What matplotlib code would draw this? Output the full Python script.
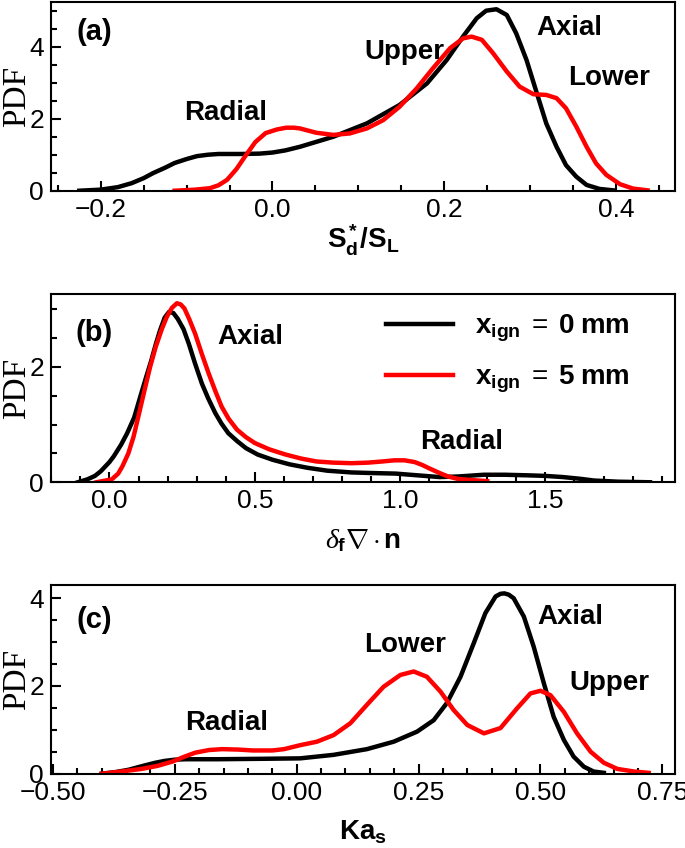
import matplotlib
matplotlib.use('Agg')
import matplotlib.pyplot as plt
from matplotlib.ticker import MultipleLocator

plt.rcParams['font.family'] = ['Liberation Sans', 'DejaVu Sans']
plt.rcParams['mathtext.fontset'] = 'custom'
plt.rcParams['mathtext.rm'] = 'Liberation Sans'
plt.rcParams['mathtext.sf'] = 'Liberation Sans'
plt.rcParams['mathtext.bf'] = 'Liberation Sans:bold'
plt.rcParams['mathtext.it'] = 'Liberation Serif:italic'

COLOR_X0 = 'black'
COLOR_X5 = '#ff0000'

# panel (a): S_d*/S_L
sd_x0_x = [-0.225, -0.20, -0.18, -0.164, -0.15, -0.139, -0.125, -0.114, -0.10, -0.088, -0.075,
           -0.063, -0.037, -0.015, 0.0, 0.015, 0.032, 0.071, 0.110, 0.148, 0.180, 0.203,
           0.222, 0.238, 0.249, 0.261, 0.273, 0.284, 0.296, 0.308, 0.319, 0.331, 0.342,
           0.354, 0.366, 0.381, 0.397]
sd_x0_y = [0.0, 0.03, 0.10, 0.21, 0.35, 0.49, 0.64, 0.77, 0.88, 0.96, 1.00,
           1.02, 1.02, 1.03, 1.06, 1.12, 1.22, 1.50, 1.87, 2.38, 2.98, 3.63,
           4.28, 4.79, 5.00, 5.04, 4.88, 4.37, 3.63, 2.71, 1.87, 1.22, 0.71,
           0.39, 0.16, 0.05, 0.01]
sd_x5_x = [-0.114, -0.09, -0.073, -0.063, -0.053, -0.042, -0.032, -0.020, -0.008, 0.005,
           0.016, 0.025, 0.032, 0.051, 0.071, 0.090, 0.110, 0.129, 0.148, 0.168, 0.187,
           0.207, 0.222, 0.232, 0.244, 0.257, 0.273, 0.288, 0.304, 0.319, 0.331, 0.342,
           0.354, 0.366, 0.377, 0.389, 0.405, 0.420, 0.437]
sd_x5_y = [0.0, 0.03, 0.07, 0.15, 0.30, 0.60, 0.95, 1.35, 1.60, 1.70,
           1.75, 1.75, 1.73, 1.61, 1.55, 1.59, 1.73, 1.96, 2.33, 2.84, 3.40,
           3.96, 4.23, 4.28, 4.19, 3.82, 3.31, 2.89, 2.68, 2.66, 2.57, 2.29,
           1.78, 1.22, 0.76, 0.44, 0.18, 0.06, 0.01]

# panel (b): delta_f * curvature
curv_x0_x = [-0.109, -0.076, -0.05, -0.030, 0.0, 0.015, 0.04, 0.061, 0.085, 0.106, 0.125,
             0.144, 0.160, 0.174, 0.19, 0.205, 0.22, 0.235, 0.255, 0.273, 0.295, 0.318,
             0.34, 0.364, 0.385, 0.409, 0.44, 0.470, 0.51, 0.561, 0.62, 0.682, 0.75,
             0.833, 0.90, 0.985, 1.06, 1.136, 1.20, 1.288, 1.36, 1.439, 1.50, 1.56,
             1.62, 1.667, 1.75, 1.86]
curv_x0_y = [0.0, 0.05, 0.11, 0.19, 0.35, 0.45, 0.65, 0.85, 1.12, 1.48, 1.80,
             2.11, 2.40, 2.63, 2.85, 2.95, 2.93, 2.83, 2.65, 2.40, 2.05, 1.71,
             1.45, 1.20, 1.02, 0.85, 0.71, 0.59, 0.48, 0.39, 0.31, 0.25, 0.20,
             0.17, 0.16, 0.15, 0.12, 0.09, 0.10, 0.13, 0.13, 0.12, 0.11, 0.09,
             0.06, 0.03, 0.01, 0.0]
curv_x5_x = [-0.045, 0.008, 0.03, 0.045, 0.065, 0.083, 0.10, 0.121, 0.14, 0.159, 0.18,
             0.197, 0.215, 0.232, 0.245, 0.258, 0.275, 0.295, 0.318, 0.341, 0.365, 0.386,
             0.41, 0.439, 0.47, 0.50, 0.55, 0.606, 0.66, 0.712, 0.77, 0.833, 0.89,
             0.939, 0.98, 1.015, 1.05, 1.076, 1.105, 1.136, 1.165, 1.197, 1.24, 1.30]
curv_x5_y = [0.0, 0.05, 0.15, 0.28, 0.50, 0.79, 1.15, 1.60, 2.00, 2.34, 2.65,
             2.86, 3.02, 3.10, 3.08, 3.01, 2.82, 2.57, 2.22, 1.89, 1.57, 1.31,
             1.10, 0.91, 0.78, 0.68, 0.57, 0.48, 0.41, 0.36, 0.34, 0.33, 0.34,
             0.36, 0.38, 0.38, 0.35, 0.30, 0.23, 0.16, 0.10, 0.06, 0.04, 0.02]

# panel (c): Ka_s
ka_x0_x = [-0.40, -0.37, -0.345, -0.325, -0.308, -0.29, -0.272, -0.25, -0.226, -0.163,
           -0.071, 0.007, 0.0756, 0.144, 0.199, 0.247, 0.281, 0.308, 0.336, 0.363, 0.387,
           0.408, 0.418, 0.426, 0.435, 0.445, 0.466, 0.486, 0.507, 0.527, 0.548, 0.568,
           0.589, 0.609, 0.630]
ka_x0_y = [0.0, 0.04, 0.09, 0.15, 0.20, 0.25, 0.29, 0.32, 0.33, 0.33,
           0.34, 0.35, 0.43, 0.56, 0.73, 0.96, 1.22, 1.61, 2.21, 2.97, 3.66,
           4.04, 4.10, 4.11, 4.08, 4.00, 3.58, 2.90, 2.06, 1.30, 0.77, 0.39,
           0.16, 0.05, 0.02]
ka_x5_x = [-0.40, -0.36, -0.318, -0.285, -0.254, -0.23, -0.208, -0.18, -0.153, -0.12,
           -0.090, -0.05, -0.026, 0.007, 0.0415, 0.0756, 0.110, 0.144, 0.178, 0.2125,
           0.240, 0.267, 0.295, 0.322, 0.350, 0.384, 0.418, 0.452, 0.4795, 0.500, 0.5205,
           0.548, 0.575, 0.603, 0.630, 0.6575, 0.692, 0.722]
ka_x5_y = [0.0, 0.05, 0.11, 0.18, 0.28, 0.39, 0.48, 0.54, 0.56, 0.55,
           0.53, 0.53, 0.56, 0.65, 0.73, 0.88, 1.15, 1.57, 1.98, 2.25,
           2.33, 2.21, 1.87, 1.45, 1.11, 0.92, 1.04, 1.49, 1.83, 1.89, 1.79,
           1.41, 0.92, 0.50, 0.25, 0.11, 0.05, 0.02]

legend_labels = [r'$\mathbf{x_{ign}}\ =\ \mathbf{0\ mm}$', r'$\mathbf{x_{ign}}\ =\ \mathbf{5\ mm}$']


def style_axes(ax, xmajor, xminor):
    ax.xaxis.set_major_locator(MultipleLocator(xmajor))
    ax.xaxis.set_minor_locator(MultipleLocator(xminor))
    ax.yaxis.set_major_locator(MultipleLocator(2))
    ax.yaxis.set_minor_locator(MultipleLocator(0.5))
    ax.tick_params(which='both', direction='in', width=1.5, labelsize=19, pad=5)
    ax.tick_params(which='major', length=7)
    ax.tick_params(which='minor', length=4)
    for sp in ax.spines.values():
        sp.set_linewidth(1.5)
    ax.set_ylabel('PDF', family='Liberation Serif', fontsize=24)
    ax.yaxis.set_label_coords(-0.031, 0.5)


fig = plt.figure(figsize=(6.85, 8.48), dpi=100)
ax_a = fig.add_axes([0.0745, 0.7751, 0.9109, 0.2225])
ax_b = fig.add_axes([0.0745, 0.4313, 0.9109, 0.2220])
ax_c = fig.add_axes([0.0745, 0.0876, 0.9109, 0.2225])

lw = 3.2
label_kw = dict(fontsize=20, fontweight='bold', ha='center', va='center')

# (a)
ax_a.plot(sd_x0_x, sd_x0_y, color=COLOR_X0, lw=lw)
ax_a.plot(sd_x5_x, sd_x5_y, color=COLOR_X5, lw=lw)
ax_a.set_xlim(-0.258, 0.469)
ax_a.set_ylim(0, 5.24)
style_axes(ax_a, 0.2, 0.05)
ax_a.set_xlabel(r'$\mathbf{S_d^*/S_L}$', fontsize=20)
ax_a.xaxis.set_label_coords(0.5, -0.17)
ax_a.text(0.069, 0.843, '(a)', transform=ax_a.transAxes, fontsize=21, fontweight='bold',
          ha='center', va='center')
ax_a.text(0.346, 4.51, 'Axial', **label_kw)
ax_a.text(0.1536, 3.86, 'Upper', **label_kw)
ax_a.text(0.392, 3.12, 'Lower', **label_kw)
ax_a.text(-0.054, 2.15, 'Radial', **label_kw)

# (b)
ax_b.plot(curv_x0_x, curv_x0_y, color=COLOR_X0, lw=lw, label=legend_labels[0])
ax_b.plot(curv_x5_x, curv_x5_y, color=COLOR_X5, lw=lw, label=legend_labels[1])
ax_b.set_xlim(-0.201, 1.946)
ax_b.set_ylim(0, 3.26)
style_axes(ax_b, 0.5, 0.1)
ax_b.set_xlabel(r'$\delta_\mathbf{f}\nabla\cdot\mathbf{n}$', fontsize=20)
ax_b.xaxis.set_label_coords(0.5, -0.24)
ax_b.text(0.069, 0.791, '(b)', transform=ax_b.transAxes, fontsize=21, fontweight='bold',
          ha='center', va='center')
ax_b.text(0.485, 2.52, 'Axial', **label_kw)
ax_b.text(1.212, 0.70, 'Radial', **label_kw)
ax_b.legend(loc='upper left', bbox_to_anchor=(0.537, 0.90), frameon=False, fontsize=20,
            handlelength=2.4, handletextpad=0.8, labelspacing=0.7, borderpad=0,
            borderaxespad=0)

# (c)
ax_c.plot(ka_x0_x, ka_x0_y, color=COLOR_X0, lw=lw)
ax_c.plot(ka_x5_x, ka_x5_y, color=COLOR_X5, lw=lw)
ax_c.set_xlim(-0.504, 0.776)
ax_c.set_ylim(0, 4.30)
style_axes(ax_c, 0.25, 0.05)
ax_c.set_xlabel(r'$\mathbf{Ka_s}$', fontsize=20)
ax_c.xaxis.set_label_coords(0.5, -0.24)
ax_c.text(0.069, 0.815, '(c)', transform=ax_c.transAxes, fontsize=21, fontweight='bold',
          ha='center', va='center')
ax_c.text(0.5606, 3.58, 'Axial', **label_kw)
ax_c.text(0.2216, 2.93, 'Lower', **label_kw)
ax_c.text(0.6417, 2.06, 'Upper', **label_kw)
ax_c.text(-0.1448, 1.15, 'Radial', **label_kw)

fig.savefig('out.png', dpi=100)
